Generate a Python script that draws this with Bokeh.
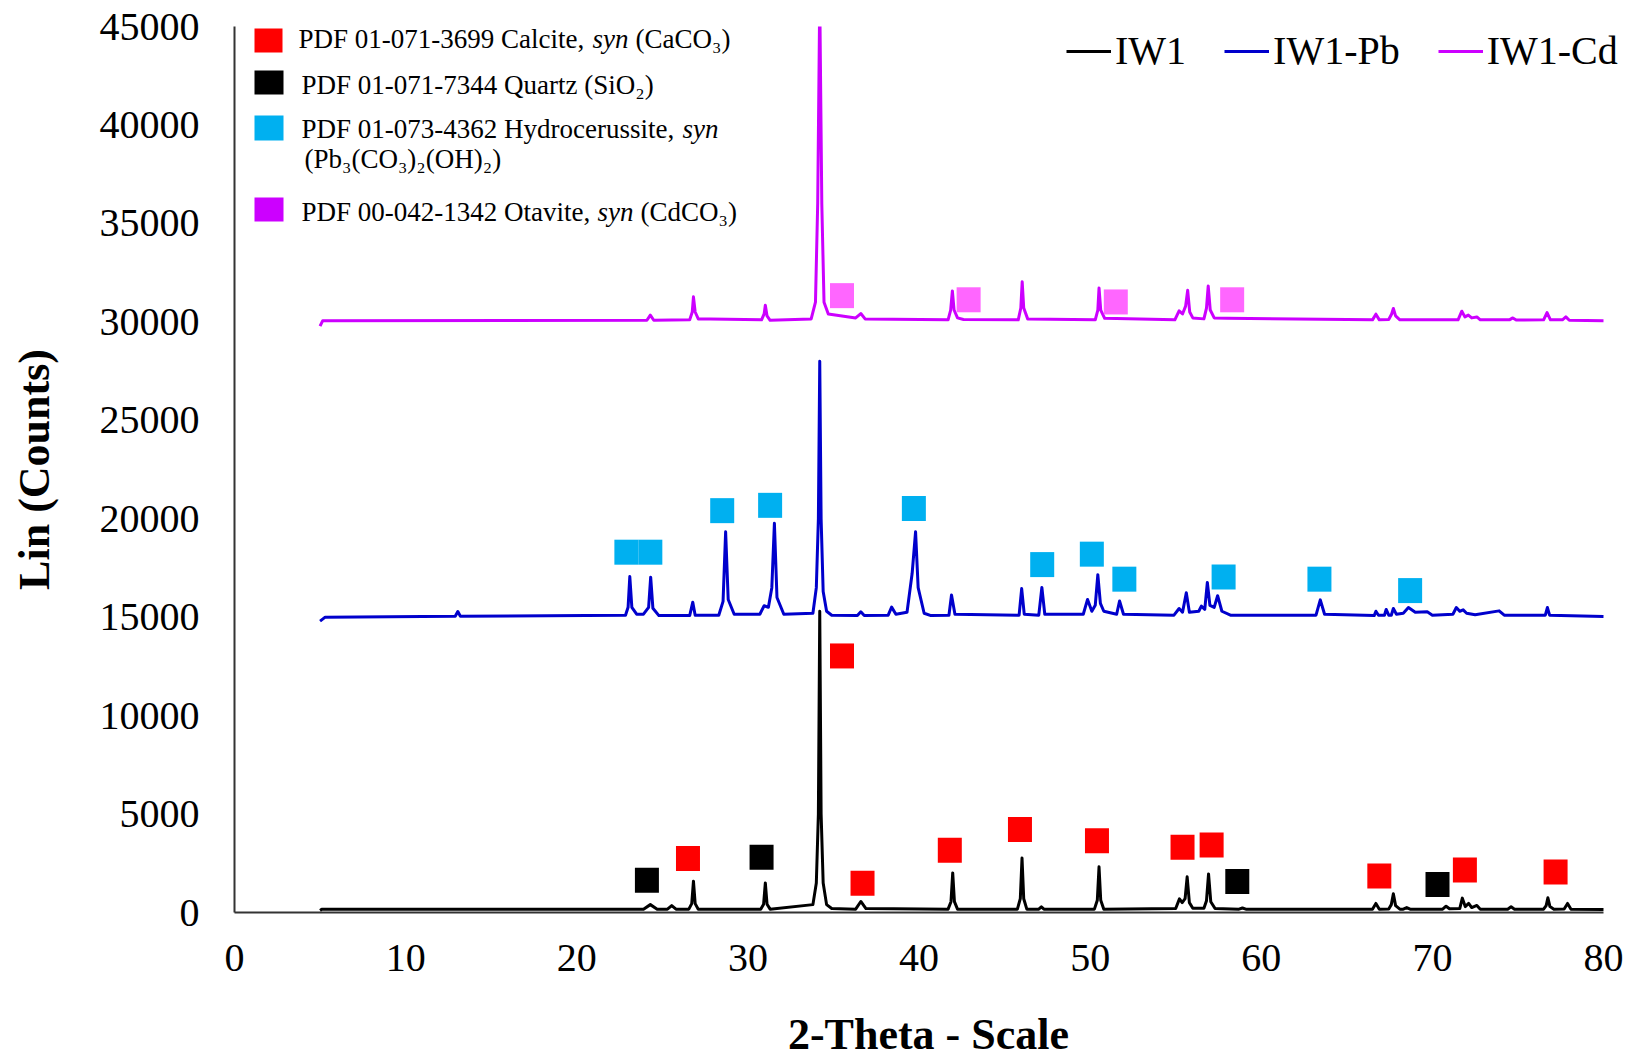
from bokeh.plotting import figure
from bokeh.models import Range1d, FixedTicker, Label, Legend, LegendItem, BoxAnnotation
from bokeh.embed import file_html
from bokeh.resources import INLINE

# ---------------- data ----------------
x_ticks = [0, 10, 20, 30, 40, 50, 60, 70, 80]
y_ticks = [0, 5000, 10000, 15000, 20000, 25000, 30000, 35000, 40000, 45000]

# IW1 (black) pattern vertices: (2-theta, counts)
iw1_pts = [
    (5.0, 100), (5.1, 160), (23.9, 170), (24.3, 400), (24.7, 170),
    (25.3, 170), (25.55, 350), (25.8, 170), (26.55, 170), (26.72, 450),
    (26.82, 1590), (26.92, 450), (27.1, 170), (30.75, 170), (30.92, 420),
    (31.02, 1500), (31.12, 420), (31.3, 170), (33.8, 400), (34.0, 1500),
    (34.12, 5000), (34.2, 15300), (34.28, 5000), (34.4, 1500), (34.6, 400),
    (34.9, 200), (36.3, 170), (36.6, 560), (36.9, 200), (41.7, 170),
    (41.87, 550), (41.97, 2010), (42.07, 550), (42.25, 170), (45.75, 170),
    (45.92, 700), (46.02, 2770), (46.12, 700), (46.3, 170), (47.0, 170),
    (47.15, 290), (47.3, 170), (50.25, 170), (50.42, 620), (50.52, 2320),
    (50.62, 620), (50.8, 170), (55.0, 200), (55.22, 690), (55.38, 500),
    (55.55, 700), (55.67, 1810), (55.8, 500), (56.0, 220), (56.65, 220),
    (56.8, 600), (56.92, 1960), (57.05, 550), (57.3, 200), (58.7, 170),
    (58.9, 230), (59.1, 170), (66.5, 170), (66.7, 460), (66.9, 170),
    (67.45, 180), (67.6, 400), (67.72, 950), (67.85, 350), (68.1, 170),
    (68.3, 170), (68.5, 250), (68.7, 170), (70.6, 170), (70.8, 320),
    (71.0, 190), (71.6, 200), (71.75, 730), (71.92, 300), (72.12, 460),
    (72.3, 250), (72.6, 360), (72.8, 170), (74.4, 170), (74.6, 290),
    (74.8, 170), (76.5, 170), (76.65, 350), (76.75, 750), (76.87, 300),
    (77.1, 170), (77.7, 180), (77.9, 460), (78.1, 170), (80.0, 150),
]

# IW1-Pb (blue) pattern vertices
pb_pts = [
    (5.0, 14800), (5.3, 15000), (12.9, 15050), (13.05, 15290), (13.2, 15050),
    (22.85, 15100), (23.0, 15500), (23.1, 17060), (23.22, 15500), (23.5, 15150),
    (23.9, 15150), (24.2, 15500), (24.32, 17030), (24.45, 15450), (24.8, 15080),
    (26.6, 15080), (26.78, 15760), (26.92, 15100), (28.3, 15100), (28.55, 15800),
    (28.7, 19340), (28.85, 15900), (29.2, 15150), (30.7, 15150), (30.95, 15580),
    (31.2, 15500), (31.4, 16500), (31.55, 19770), (31.7, 16000), (32.1, 15150),
    (33.8, 15200), (34.0, 16500), (34.12, 20000), (34.2, 28000), (34.28, 20000),
    (34.4, 16300), (34.6, 15300), (34.9, 15100), (36.4, 15080), (36.6, 15270),
    (36.8, 15080), (38.2, 15100), (38.4, 15510), (38.65, 15150), (39.3, 15250),
    (39.6, 17230), (39.8, 19340), (39.95, 16500), (40.3, 15200), (40.7, 15080),
    (41.75, 15100), (41.9, 16130), (42.1, 15150), (45.85, 15100), (46.0, 16450),
    (46.15, 15150), (47.0, 15100), (47.18, 16510), (47.35, 15150), (49.6, 15150),
    (49.85, 15900), (50.1, 15300), (50.3, 15600), (50.45, 17160), (50.6, 15700),
    (50.8, 15300), (51.55, 15150), (51.72, 15820), (51.95, 15150), (54.9, 15100),
    (55.2, 15440), (55.4, 15250), (55.62, 16240), (55.8, 15250), (56.35, 15300),
    (56.5, 15560), (56.7, 15400), (56.85, 16760), (57.0, 15600), (57.25, 15500),
    (57.45, 16090), (57.7, 15300), (58.2, 15100), (63.2, 15100), (63.45, 15880),
    (63.7, 15150), (66.6, 15080), (66.7, 15300), (66.85, 15100), (67.2, 15100),
    (67.3, 15390), (67.45, 15100), (67.6, 15100), (67.72, 15440), (67.9, 15150),
    (68.3, 15200), (68.6, 15490), (69.0, 15250), (69.7, 15270), (70.0, 15100),
    (71.2, 15150), (71.4, 15490), (71.6, 15300), (71.8, 15370), (72.0, 15200),
    (72.5, 15120), (73.9, 15320), (74.2, 15100), (76.6, 15100), (76.72, 15490),
    (76.85, 15100), (80.0, 15040),
]

# IW1-Cd (magenta) pattern vertices
cd_pts = [
    (5.0, 29780), (5.15, 30050), (24.1, 30080), (24.3, 30340), (24.5, 30080),
    (26.6, 30100), (26.75, 30500), (26.82, 31270), (26.92, 30500), (27.1, 30150),
    (27.8, 30140), (30.8, 30100), (30.95, 30400), (31.02, 30840), (31.12, 30300),
    (31.3, 30080), (33.7, 30150), (33.95, 31000), (34.08, 36000), (34.2, 46500),
    (34.32, 36000), (34.45, 31000), (34.7, 30400), (35.5, 30300), (36.3, 30200),
    (36.6, 30420), (36.85, 30150), (41.7, 30100), (41.85, 30600), (41.95, 31570),
    (42.05, 30600), (42.25, 30200), (42.6, 30120), (45.8, 30100), (45.95, 30700),
    (46.03, 32030), (46.12, 30700), (46.35, 30150), (50.3, 30100), (50.45, 30600),
    (50.52, 31720), (50.62, 30600), (50.85, 30180), (54.95, 30100), (55.2, 30560),
    (55.4, 30400), (55.58, 30800), (55.7, 31600), (55.82, 30500), (56.0, 30200),
    (56.65, 30150), (56.8, 30700), (56.9, 31820), (57.02, 30600), (57.25, 30200),
    (58.0, 30180), (66.5, 30100), (66.7, 30390), (66.9, 30100), (67.45, 30120),
    (67.62, 30400), (67.72, 30680), (67.85, 30300), (68.1, 30100), (71.5, 30100),
    (71.72, 30540), (71.9, 30250), (72.1, 30340), (72.3, 30200), (72.6, 30250),
    (72.8, 30100), (74.5, 30100), (74.7, 30200), (74.9, 30090), (76.5, 30100),
    (76.7, 30470), (76.9, 30100), (77.6, 30100), (77.8, 30250), (78.0, 30080),
    (80.0, 30060),
]

# phase markers
calcite_x = [26.5, 35.5, 36.7, 41.8, 45.9, 50.4, 55.4, 57.1, 66.9, 71.9, 77.2]
calcite_y = [2740, 13030, 1480, 3160, 4220, 3640, 3320, 3430, 1850, 2160, 2060]
quartz_x = [24.1, 30.8, 58.6, 70.3]
quartz_y = [1640, 2800, 1580, 1420]
hydro_x = [22.9, 24.3, 28.5, 31.3, 39.7, 47.2, 50.1, 52.0, 57.8, 63.4, 68.7]
hydro_y = [18300, 18300, 20410, 20680, 20520, 17670, 18200, 16930, 17040, 16930, 16350]
otav_x = [35.5, 42.9, 51.5, 58.3]
otav_y = [31330, 31120, 31010, 31120]

series_names = ["IW1", "IW1-Pb", "IW1-Cd"]
series_colors = ["#000000", "#0000CC", "#CC00FF"]

# ---------------- figure ----------------
FONT = "Liberation Serif"
W, H = 1630, 1061
FL, FR, FT, FB = 234, 1622, 26, 913   # plot frame edges in page pixels
X_AXIS_END = 80
X_VIEW_END = 80 * (FR - FL) / 1369.0  # frame continues past the axis end (legend overhang)

p = figure(width=W, height=H, x_range=Range1d(0, X_VIEW_END), y_range=Range1d(0, 45000),
           output_backend="svg", toolbar_location=None,
           min_border_left=FL, min_border_right=W - FR, min_border_top=FT, min_border_bottom=H - FB)
p.outline_line_color = None
p.xgrid.visible = False
p.ygrid.visible = False
p.background_fill_color = "white"
p.border_fill_color = "white"

for ax in (p.xaxis[0], p.yaxis[0]):
    ax.major_tick_in = 0
    ax.major_tick_out = 0
    ax.minor_tick_in = 0
    ax.minor_tick_out = 0
    ax.axis_line_color = "#333333"
    ax.axis_line_width = 2
    ax.major_label_text_font = FONT
    ax.major_label_text_font_size = "40px"
    ax.major_label_text_color = "black"
    ax.axis_label_text_font = FONT
    ax.axis_label_text_font_size = "44px"
    ax.axis_label_text_font_style = "bold"
    ax.axis_label_text_color = "black"

p.xaxis.bounds = (0, X_AXIS_END)
p.xaxis.ticker = FixedTicker(ticks=x_ticks)
p.yaxis.ticker = FixedTicker(ticks=y_ticks)
p.xaxis.axis_label = "2-Theta - Scale"
p.yaxis.axis_label = "Lin (Counts)"
p.xaxis.major_label_standoff = 32
p.xaxis.axis_label_standoff = 36
p.yaxis.major_label_standoff = 35
p.yaxis.axis_label_standoff = 38

renderers = []
for pts, name, col in zip([iw1_pts, pb_pts, cd_pts], series_names, series_colors):
    xs = [a for a, b in pts]
    ys = [b for a, b in pts]
    r = p.line(xs, ys, line_color=col, line_width=3, line_join="round")
    renderers.append(r)

MW, MH = 24, 25
p.rect(calcite_x, calcite_y, width=MW, height=MH, width_units="screen", height_units="screen",
       fill_color="#FF0000", line_color=None)
p.rect(quartz_x, quartz_y, width=MW, height=MH, width_units="screen", height_units="screen",
       fill_color="#000000", line_color=None)
p.rect(hydro_x, hydro_y, width=MW, height=MH, width_units="screen", height_units="screen",
       fill_color="#00B0F0", line_color=None)
p.rect(otav_x, otav_y, width=MW, height=MH, width_units="screen", height_units="screen",
       fill_color="#FF66FF", line_color=None)

# series legend (top right)
legend = Legend(items=[LegendItem(label=n, renderers=[r]) for n, r in zip(series_names, renderers)],
                orientation="horizontal", location=(1066 - FL, FB - 75),
                label_text_font=FONT, label_text_font_size="40px", label_text_color="black",
                glyph_width=45, glyph_height=40, label_standoff=4, spacing=38,
                padding=0, margin=0, border_line_alpha=0, background_fill_alpha=0)
p.add_layout(legend, "center")

# phase legend (top left): frame-relative screen units
def box(x0, x1, y0, y1, color):
    p.add_layout(BoxAnnotation(left=x0 - FL, right=x1 - FL, top=FB - y0, bottom=FB - y1,
                               left_units="screen", right_units="screen",
                               top_units="screen", bottom_units="screen",
                               fill_color=color, fill_alpha=1, line_color=None))

def txt(x, baseline, s, italic=False):
    p.add_layout(Label(x=x - FL, y=FB - baseline, x_units="screen", y_units="screen", text=s,
                       text_font=FONT, text_font_size="27px", text_color="black",
                       text_font_style="italic" if italic else "normal",
                       text_baseline="alphabetic", text_align="left"))

box(254, 282, 29, 53, "#FF0000")
box(254, 283, 71, 95, "#000000")
box(254, 283, 116, 141, "#00B0F0")
box(254, 283, 198, 222, "#CC00FF")

txt(298, 39, "PDF 01-071-3699 Calcite,")
txt(592, 39, "syn", italic=True)
txt(635, 39, "(CaCO\u2083)")
txt(301, 85, "PDF 01-071-7344 Quartz (SiO\u2082)")
txt(301, 129, "PDF 01-073-4362 Hydrocerussite,")
txt(682, 129, "syn", italic=True)
txt(304, 159, "(Pb\u2083(CO\u2083)\u2082(OH)\u2082)")
txt(301, 212, "PDF 00-042-1342 Otavite,")
txt(597, 212, "syn", italic=True)
txt(640, 212, "(CdCO\u2083)")

open("out.html", "w").write(file_html(p, INLINE))
